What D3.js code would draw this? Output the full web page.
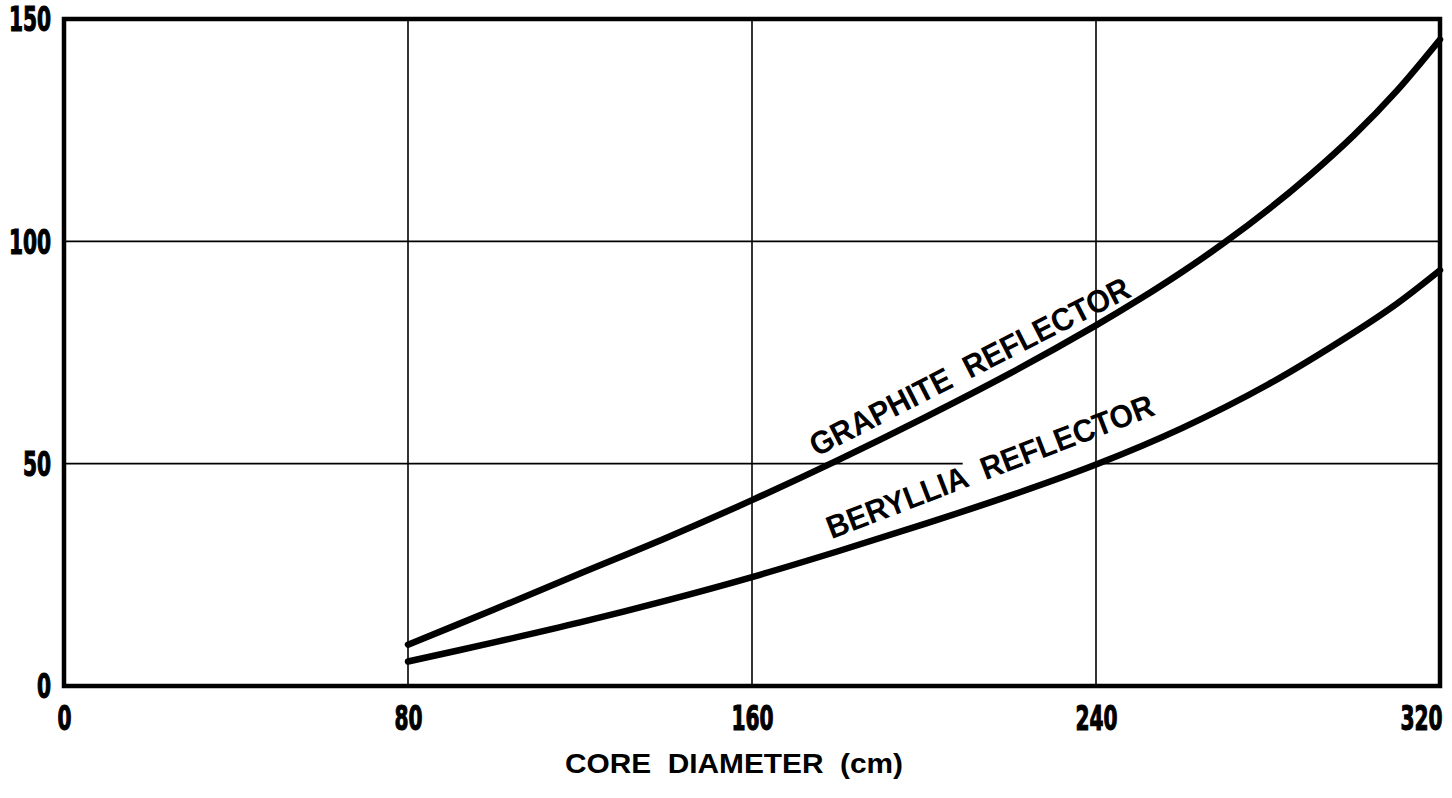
<!DOCTYPE html>
<html><head><meta charset="utf-8">
<script src="https://cdn.jsdelivr.net/npm/d3@7"></script>
<style>body{margin:0;background:#fff}svg{display:block}</style>
</head><body><svg id="c" width="1452" height="798"></svg>
<script>
const xTicks = [0, 80, 160, 240, 320];
const yTicks = [0, 50, 100, 150];
const xTitle = "CORE  DIAMETER  (cm)";
const graphiteX = [80, 100, 120, 140, 160, 180, 200, 220, 240, 250, 260, 270, 280, 290, 300, 310, 320];
const graphiteY = [9.3, 17.2, 25.3, 33.3, 41.8, 50.8, 60.3, 70.3, 81.1, 86.9, 93.1, 99.8, 107.1, 115.1, 123.9, 133.9, 145.4];
const berylliaX = [80, 100, 120, 140, 160, 180, 200, 220, 240, 260, 280, 300, 310, 320];
const berylliaY = [5.5, 9.8, 14.3, 19.2, 24.5, 30.3, 36.4, 42.8, 49.8, 58, 67.8, 79.5, 86, 93.5];
const curveLabels = ["GRAPHITE  REFLECTOR", "BERYLLIA  REFLECTOR"];

const W = 1452, H = 798;
const m = {l: 64, r: 12, t: 19, b: 112};
const svg = d3.select("#c");
const x = d3.scaleLinear().domain([0, 320]).range([m.l, W - m.r]);
const y = d3.scaleLinear().domain([0, 150]).range([H - m.b, m.t]);

const tickFont = "'Liberation Sans Narrow','DejaVu Sans Condensed','Liberation Sans',sans-serif";
const textFont = "'Liberation Sans','Arial',sans-serif";
const sx = 0.68;

// gridlines
const g = svg.append("g");
g.selectAll("line.vx").data(xTicks.slice(1, -1)).join("line")
  .attr("x1", d => x(d)).attr("x2", d => x(d))
  .attr("y1", y(0)).attr("y2", y(150))
  .attr("stroke", "#000").attr("stroke-width", 1.6);
// horizontal gridlines (the 50 line is interrupted near the beryllia label)
const hSegs = [[100, 0, 320], [50, 0, 209], [50, 240, 320]];
g.selectAll("line.hy").data(hSegs).join("line")
  .attr("x1", d => x(d[1])).attr("x2", d => x(d[2]))
  .attr("y1", d => y(d[0])).attr("y2", d => y(d[0]))
  .attr("stroke", "#000").attr("stroke-width", 1.6);

// curves
const line = d3.line().x(d => x(d[0])).y(d => y(d[1])).curve(d3.curveCatmullRom.alpha(0.5));
[[graphiteX, graphiteY], [berylliaX, berylliaY]].forEach(([xs, ys]) => {
  svg.append("path").datum(xs.map((v, i) => [v, ys[i]]))
    .attr("d", line).attr("fill", "none").attr("stroke", "#000")
    .attr("stroke-width", 6.5).attr("stroke-linecap", "round");
});

// frame
svg.append("rect").attr("x", x(0)).attr("y", y(150))
  .attr("width", x(320) - x(0)).attr("height", y(0) - y(150))
  .attr("fill", "none").attr("stroke", "#000").attr("stroke-width", 4.5);

function styleTicks(sel) {
  sel.attr("font-family", tickFont).attr("font-weight", "bold")
    .attr("font-size", 33).attr("fill", "#000")
    .attr("stroke", "#000").attr("stroke-width", 1.1)
    .attr("transform", `scale(${sx},1)`);
}

// x axis labels
const xa = svg.append("g").attr("transform", `translate(0,${y(0)})`)
  .call(d3.axisBottom(x).tickValues(xTicks).tickSize(0).tickPadding(21).tickFormat(d3.format("d")));
xa.select(".domain").remove();
xa.selectAll("text").call(styleTicks).attr("dy", "0.71em");
xa.selectAll("text").filter(d => d === 320).attr("dx", -19 / sx);

// y axis labels
const ya = svg.append("g").attr("transform", `translate(${x(0)},0)`)
  .call(d3.axisLeft(y).tickValues(yTicks).tickSize(0).tickPadding(13).tickFormat(d3.format("d")));
ya.select(".domain").remove();
ya.selectAll("text").call(styleTicks).attr("x", -13 / sx).attr("dy", "0.36em");

// x title
svg.append("text").attr("x", 734).attr("y", 773).attr("text-anchor", "middle")
  .attr("font-family", textFont).attr("font-weight", "bold").attr("font-size", 28)
  .attr("textLength", 338).attr("lengthAdjust", "spacingAndGlyphs")
  .style("white-space", "pre")
  .attr("fill", "#000").text(xTitle);

// curve labels
const labPos = [[175, 51.5, -27, 355], [178.5, 33, -21, 348]];
curveLabels.forEach((t, i) => {
  const [lx, ly, ang, len] = labPos[i];
  svg.append("text")
    .attr("transform", `translate(${x(lx)},${y(ly)}) rotate(${ang})`)
    .attr("font-family", textFont).attr("font-weight", "bold").attr("font-size", 32)
    .attr("textLength", len).attr("lengthAdjust", "spacingAndGlyphs")
    .style("white-space", "pre")
    .attr("fill", "#000").text(t);
});
</script></body></html>
